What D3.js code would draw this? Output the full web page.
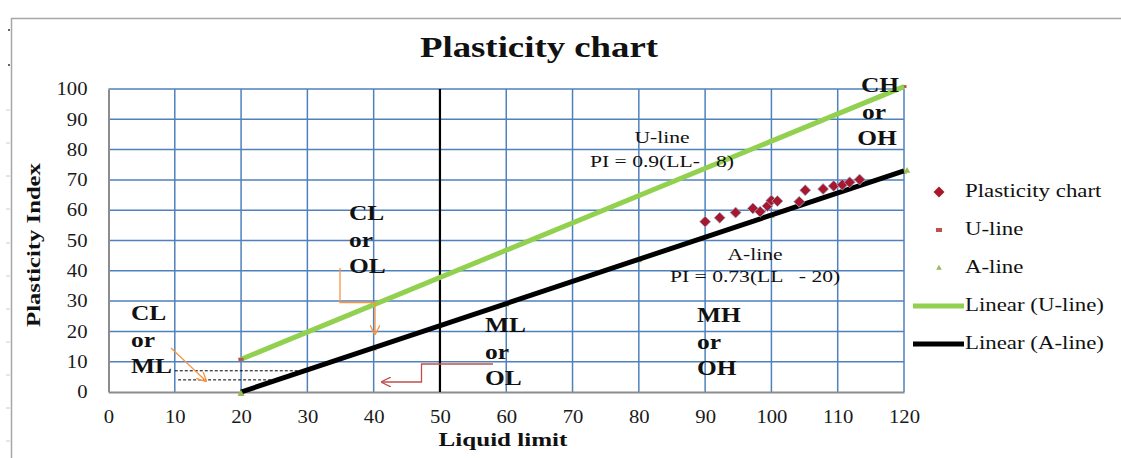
<!DOCTYPE html>
<html><head><meta charset="utf-8">
<script src="https://cdn.jsdelivr.net/npm/d3@7/dist/d3.min.js"></script>
<style>
body{margin:0;background:#fff;}
text{font-family:"Liberation Serif","Times New Roman",serif;}
</style></head>
<body><svg id="c" width="1121" height="458"></svg>
<script>
// ---- data ----
const xTicks = [0,10,20,30,40,50,60,70,80,90,100,110,120];
const yTicks = [0,10,20,30,40,50,60,70,80,90,100];
const sampleLL = [90.0,92.2,94.6,97.2,98.3,99.4,100.0,100.9,104.2,105.1,107.8,109.4,110.7,111.8,113.3];
const samplePI = [56.2,57.5,59.2,60.6,59.5,61.4,63.2,63.0,62.8,66.6,67.0,68.0,68.4,69.2,70.1];
const uLineLL = [20,40,60,80,100,120];
const uLinePI = [10.8,28.8,46.8,64.8,82.8,100.8];
const aLineLL = [20,40,60,80,100,120];
const aLinePI = [0,14.6,29.2,43.8,58.4,73];
const uTrendLL = [20,120], uTrendPI = [10.8,100.8];
const aTrendLL = [20,120], aTrendPI = [0,73];
const dashLL = [[10,29.6],[10.5,25.5]], dashPI = [7,4];
const legendLabels = ["Plasticity chart","U-line","A-line","Linear (U-line)","Linear (A-line)"];

const SX = 1.27; // horizontal stretch of the reference's text
const svg = d3.select("#c");
const x = d3.scaleLinear().domain([0,120]).range([108.5,904]);
const y = d3.scaleLinear().domain([0,100]).range([392,89]);

function txt(px,py,str,size,opts){
  opts = opts||{};
  return svg.append("text")
    .attr("transform",`translate(${px},${py})${opts.rot?" rotate("+opts.rot+")":""} scale(${opts.sx||SX},1)`)
    .attr("font-size",size).attr("text-anchor",opts.anchor||"start")
    .attr("font-weight",opts.bold?"bold":"normal").attr("fill","#111")
    .attr("xml:space","preserve").text(str);
}
const diamond = "M0,-5.5L5.5,0L0,5.5L-5.5,0Z";

// outer chart frame
svg.append("rect").attr("x",11.5).attr("y",18.5).attr("width",1200).attr("height",600)
  .attr("fill","#fff").attr("stroke","#a6a6a6").attr("stroke-width",1.5);
[110,143,176,209,243,276,309,342,375,408,441].forEach(v=>{
  svg.append("line").attr("x1",6).attr("x2",10).attr("y1",v).attr("y2",v).attr("stroke","#ccc");
});
svg.append("circle").attr("cx",9).attr("cy",30).attr("r",1).attr("fill","#333");
svg.append("circle").attr("cx",9).attr("cy",65).attr("r",1).attr("fill","#333");

// title
txt(539,57,"Plasticity chart",29,{bold:true,anchor:"middle"});

// grid
const grid = svg.append("g");
xTicks.filter(d=>d>0).forEach(d=>grid.append("line").attr("x1",x(d)).attr("x2",x(d))
  .attr("y1",y(0)).attr("y2",y(100)).attr("stroke","#4f81bd").attr("stroke-width",1.5));
yTicks.filter(d=>d>0).forEach(d=>grid.append("line").attr("x1",x(0)).attr("x2",x(120))
  .attr("y1",y(d)).attr("y2",y(d)).attr("stroke","#4f81bd").attr("stroke-width",1.5));

// axes
const TS = 1.15;
const xAxis = svg.append("g").attr("transform",`translate(0,${y(0)})`)
  .call(d3.axisBottom(x).tickValues(xTicks).tickSize(0).tickPadding(18));
const yAxis = svg.append("g").attr("transform",`translate(${x(0)},0)`)
  .call(d3.axisLeft(y).tickValues(yTicks).tickSize(0).tickPadding(21));
[xAxis,yAxis].forEach(a=>{
  a.select(".domain").attr("stroke","#8c8c8c").attr("stroke-width",2);
  a.selectAll("text").attr("font-family","Liberation Serif, serif").attr("font-size",18).attr("fill","#1a1a1a")
   .attr("transform",`scale(${TS},1)`);
});
yAxis.selectAll("text").attr("x",-21/TS);

// axis titles
txt(503,446,"Liquid limit",19,{bold:true,anchor:"middle",sx:1.32});
txt(40,245,"Plasticity Index",19,{bold:true,anchor:"middle",rot:-90,sx:1.3});

// vertical LL=50 line
svg.append("line").attr("x1",x(50)).attr("x2",x(50)).attr("y1",y(100)).attr("y2",y(0))
  .attr("stroke","#000").attr("stroke-width",2.2);

// dashed lines
dashPI.forEach((p,i)=>svg.append("line").attr("x1",x(dashLL[i][0])).attr("x2",x(dashLL[i][1]))
  .attr("y1",y(p)).attr("y2",y(p)).attr("stroke","#000").attr("stroke-width",1).attr("stroke-dasharray","3,2"));

// U-line / A-line markers (mostly hidden by the trend lines)
uLineLL.forEach((d,i)=>svg.append("rect").attr("x",x(d)-2.5).attr("y",y(uLinePI[i])-1.5)
  .attr("width",5).attr("height",3).attr("fill","#c0504d"));
aLineLL.forEach((d,i)=>svg.append("path").attr("d",d3.symbol(d3.symbolTriangle,18)())
  .attr("transform",`translate(${x(d)},${y(aLinePI[i])+1})`).attr("fill","#9bbb59"));

// trend lines
const line = d3.line().x(d=>x(d[0])).y(d=>y(d[1]));
svg.append("path").datum(uTrendLL.map((d,i)=>[d,uTrendPI[i]])).attr("d",line)
  .attr("stroke","#92d050").attr("stroke-width",5).attr("fill","none");
svg.append("path").datum(aTrendLL.map((d,i)=>[d,aTrendPI[i]])).attr("d",line)
  .attr("stroke","#000").attr("stroke-width",5).attr("fill","none");
// end markers visible at line ends
svg.append("rect").attr("x",x(uLineLL[0])-2.5).attr("y",y(uLinePI[0])-1.5).attr("width",5).attr("height",3).attr("fill","#c0504d");
svg.append("path").attr("d",d3.symbol(d3.symbolTriangle,20)())
  .attr("transform",`translate(${x(aLineLL[0])},${y(aLinePI[0])+2})`).attr("fill","#9bbb59");
const lastA = aLineLL.length-1;
svg.append("path").attr("d",d3.symbol(d3.symbolTriangle,20)())
  .attr("transform",`translate(${x(aLineLL[lastA])+3},${y(aLinePI[lastA])})`).attr("fill","#9bbb59");

// arrows
const defs = svg.append("defs");
function arrowHead(id,color){
  defs.append("marker").attr("id",id).attr("viewBox","0 0 10 10").attr("refX",9).attr("refY",5)
   .attr("markerWidth",10).attr("markerHeight",10).attr("markerUnits","userSpaceOnUse").attr("orient","auto")
   .append("path").attr("d","M0,0 L10,5 L0,10").attr("fill","none").attr("stroke",color).attr("stroke-width",1.3);
}
arrowHead("ao","#f79646"); arrowHead("ar","#c0504d");
svg.append("line").attr("x1",171).attr("y1",348).attr("x2",206).attr("y2",381)
  .attr("stroke","#f79646").attr("stroke-width",1.3).attr("marker-end","url(#ao)");
svg.append("polyline").attr("points","340,268 340,302.5 375,302.5 375,334").attr("fill","none")
  .attr("stroke","#f79646").attr("stroke-width",1.3).attr("marker-end","url(#ao)");
svg.append("polyline").attr("points","493,364 421.5,364 421.5,382 382,382").attr("fill","none")
  .attr("stroke","#c0504d").attr("stroke-width",1.3).attr("marker-end","url(#ar)");

// sample diamonds
sampleLL.forEach((d,i)=>svg.append("path").attr("d",diamond)
  .attr("transform",`translate(${x(d)},${y(samplePI[i])})`).attr("fill","#a8182c")
  .attr("stroke","#9db3d8").attr("stroke-width",0.8));

// zone labels
function zone(lines,xs,yy,anchor){
  lines.forEach((s,i)=>txt(xs[i],yy+i*26.5,s,20,{bold:true,anchor:anchor}));
}
zone(["CL","or","ML"],[131,131,131],320);
zone(["CL","or","OL"],[349,349,349],220);
zone(["ML","or","OL"],[485,485,485],332);
zone(["MH","or","OH"],[697,697,697],322);
zone(["CH","or","OH"],[880,874,877],92,"middle");

// equation labels
txt(662,143,"U-line",17,{anchor:"middle"});
txt(590,167,"PI = 0.9(LL-   8)",17);
txt(755,260,"A-line",17,{anchor:"middle"});
txt(670,282,"PI = 0.73(LL   - 20)",17);

// legend
const ly = [192,230,268,306,344];
legendLabels.forEach((s,i)=>txt(965,ly[i]+5,s,18));
svg.append("path").attr("d",diamond).attr("transform",`translate(939,${ly[0]})`).attr("fill","#a8182c");
svg.append("rect").attr("x",936).attr("y",ly[1]-2).attr("width",6).attr("height",4).attr("fill","#c0504d");
svg.append("path").attr("d",d3.symbol(d3.symbolTriangle,14)()).attr("transform",`translate(939,${ly[2]})`).attr("fill","#9bbb59");
svg.append("line").attr("x1",913).attr("x2",964).attr("y1",ly[3]).attr("y2",ly[3]).attr("stroke","#92d050").attr("stroke-width",5);
svg.append("line").attr("x1",913).attr("x2",964).attr("y1",ly[4]).attr("y2",ly[4]).attr("stroke","#000").attr("stroke-width",5);
</script></body></html>
